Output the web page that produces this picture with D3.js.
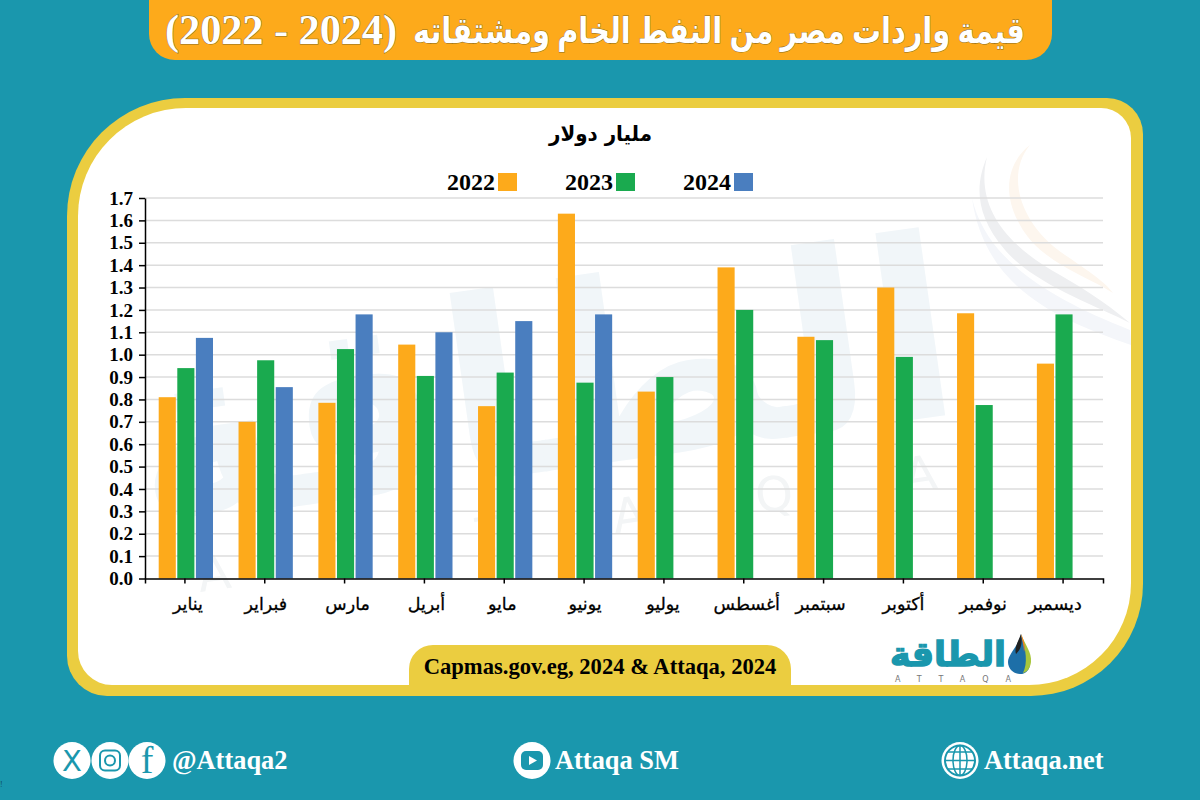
<!DOCTYPE html>
<html><head><meta charset="utf-8">
<script src="https://cdn.jsdelivr.net/npm/d3@7"></script>
<style>
html,body{margin:0;padding:0;background:#1a97ad;}
svg{display:block;}
</style></head><body>
<svg id="c" width="1200" height="800"></svg>
<script>
const titleArabic = "قيمة واردات مصر من النفط الخام ومشتقاته";
const titleYears = "(2022 - 2024)";
const unitText = "مليار دولار";
const sourceText = "Capmas.gov.eg, 2024 & Attaqa, 2024";
const months = ["يناير","فبراير","مارس","أبريل","مايو","يونيو","يوليو","أغسطس","سبتمبر","أكتوبر","نوفمبر","ديسمبر"];
const seriesNames = ["2022","2023","2024"];
const seriesColors = ["#fdaa1b","#1aaa4f","#4a7ebf"];
const values2022 = [0.81,0.70,0.785,1.045,0.77,1.63,0.835,1.39,1.08,1.30,1.185,0.96];
const values2023 = [0.94,0.975,1.025,0.905,0.92,0.875,0.90,1.20,1.065,0.99,0.775,1.18];
const values2024 = [1.075,0.855,1.18,1.10,1.15,1.18,null,null,null,null,null,null];
const yTicks = [0,0.1,0.2,0.3,0.4,0.5,0.6,0.7,0.8,0.9,1.0,1.1,1.2,1.3,1.4,1.5,1.6,1.7];

const serif = "'Liberation Serif','DejaVu Sans',serif";
const arabic = "'DejaVu Sans',sans-serif";
const svg = d3.select("#c");

function corners(x0,y0,x1,y1,tl,tr,br,bl){
  return `M${x0+tl},${y0}H${x1-tr}A${tr},${tr} 0 0 1 ${x1},${y0+tr}V${y1-br}A${br},${br} 0 0 1 ${x1-br},${y1}H${x0+bl}A${bl},${bl} 0 0 1 ${x0},${y1-bl}V${y0+tl}A${tl},${tl} 0 0 1 ${x0+tl},${y0}Z`;
}
svg.append("rect").attr("width",1200).attr("height",800).attr("fill","#1a97ad");

// title banner
svg.append("path").attr("d",corners(149,-30,1052,60,0,0,26,26)).attr("fill","#fdaa1b");
const titleStyle = s=>s.attr("font-family",serif).attr("font-weight","bold").attr("fill","#fff")
  .attr("lengthAdjust","spacingAndGlyphs").style("paint-order","stroke").attr("stroke","#8a6a20").attr("stroke-width",1);
titleStyle(svg.append("text").attr("x",719).attr("y",43).attr("text-anchor","middle")
  .attr("font-size",36).attr("textLength",612).text(titleArabic));
titleStyle(svg.append("text").attr("x",281).attr("y",44).attr("text-anchor","middle")
  .attr("direction","ltr").style("unicode-bidi","bidi-override")
  .attr("font-size",42).attr("textLength",232).text(titleYears));

// frame
svg.append("path").attr("d",corners(67,98,1143,696,118,36,112,40)).attr("fill","#ebcd40");
svg.append("path").attr("d",corners(78,108,1131,685,108,30,102,34)).attr("fill","#fff");

// watermark
const wm = svg.append("g");
wm.append("text").attr("transform","translate(555,470) rotate(-8)").attr("text-anchor","middle")
  .attr("font-family",arabic).attr("font-weight","bold").attr("font-size",250).attr("fill","#f1f6f9")
  .attr("textLength",830).attr("lengthAdjust","spacingAndGlyphs").text("الطاقة");
wm.append("text").attr("transform","translate(200,592) rotate(-8)")
  .attr("font-family",arabic).attr("font-size",48).attr("fill","#f3f5f6")
  .attr("letter-spacing",112).text("ATTAQA");
wm.append("path").attr("d","M972,198C985,255 1040,295 1130,330L1131,345C1060,320 985,290 972,198Z").attr("fill","#f4f6fa");
wm.append("path").attr("d","M1030,145C1005,175 1020,225 1065,255C1090,272 1105,282 1113,293C1085,275 1040,262 1020,225C1000,190 1010,160 1030,145Z").attr("fill","#fdf6ee");
wm.append("path").attr("d","M987,157C975,205 1005,245 1060,275C1090,292 1115,310 1130,323C1095,305 1035,285 1005,250C975,215 975,185 987,157Z").attr("fill","#eeeff1");

// chart
const x = d3.scaleBand().domain(months).range([145,1103]);
const sub = d3.scaleBand().domain(seriesNames).range([13.7,68]).paddingInner(0.08);
const y = d3.scaleLinear().domain([0,1.7]).range([578.5,198]);

svg.append("g").selectAll("line").data(yTicks.filter(d=>d>0)).join("line")
  .attr("x1",145).attr("x2",1103).attr("y1",d=>y(d)).attr("y2",d=>y(d))
  .attr("stroke","#dcdcdc").attr("stroke-width",1.5);

const allSeries = [values2022,values2023,values2024];
allSeries.forEach((vals,i)=>{
  const rows = vals.map((v,j)=>({m:months[j],v})).filter(d=>d.v!==null);
  svg.append("g").selectAll("rect").data(rows).join("rect")
    .attr("x",d=>x(d.m)+sub(seriesNames[i]))
    .attr("width",sub.bandwidth())
    .attr("y",d=>y(d.v))
    .attr("height",d=>y(0)-y(d.v))
    .attr("fill",seriesColors[i]);
});

const yAxis = svg.append("g").attr("transform","translate(145,0)")
  .call(d3.axisLeft(y).tickValues(yTicks).tickFormat(d3.format(".1f")).tickSize(6).tickSizeOuter(0));
yAxis.selectAll("text").attr("x",-12).attr("font-family",serif).attr("font-weight","bold").attr("font-size",19).attr("fill","#000");
yAxis.selectAll("line,path").attr("stroke","#000").attr("stroke-width",1.5);

const labelNudge = [3,1,3,2,-2,1,-1,3,-3,0,0,-8];
const xAxis = svg.append("g").attr("transform","translate(0,578.5)")
  .call(d3.axisBottom(x).tickSize(5).tickSizeOuter(5));
xAxis.selectAll("text").attr("y",19).attr("dx",(d,i)=>labelNudge[i]).attr("font-family",arabic).attr("font-weight","normal").attr("font-size",17.5).attr("fill","#000").attr("stroke","#000").attr("stroke-width",0.3);
xAxis.selectAll("line,path").attr("stroke","#000").attr("stroke-width",1.5);

// unit
svg.append("text").attr("x",600.5).attr("y",141).attr("text-anchor","middle").attr("direction","rtl")
  .attr("font-family",arabic).attr("font-weight","bold").attr("font-size",21).attr("fill","#000")
  .attr("textLength",103).attr("lengthAdjust","spacingAndGlyphs").text(unitText);

// legend
const lx = d3.scalePoint().domain(seriesNames).range([498,734]);
const leg = svg.append("g").selectAll("g").data(seriesNames).join("g")
  .attr("transform",d=>`translate(${lx(d)},0)`);
leg.append("rect").attr("y",173).attr("width",19).attr("height",18).attr("fill",(d,i)=>seriesColors[i]);
leg.append("text").attr("x",-3).attr("y",190).attr("text-anchor","end")
  .attr("font-family",serif).attr("font-weight","bold").attr("font-size",24).attr("fill","#000").text(d=>d);

// source pill
svg.append("path").attr("d",corners(409,645,791,690,24,24,0,0)).attr("fill","#ebcd40");
svg.append("text").attr("x",600).attr("y",674).attr("text-anchor","middle")
  .attr("font-family",serif).attr("font-weight","bold").attr("font-size",22.6).attr("fill","#000").text(sourceText);

// logo
svg.append("text").attr("x",948).attr("y",666).attr("text-anchor","middle").attr("direction","rtl")
  .attr("font-family",arabic).attr("font-weight","bold").attr("font-size",34).attr("fill","#1a97ad")
  .attr("stroke","#1a97ad").attr("stroke-width",1.4)
  .attr("textLength",116).attr("lengthAdjust","spacingAndGlyphs").text("الطاقة");
svg.append("text").attr("x",895).attr("y",682).attr("font-family",arabic).attr("font-size",8).attr("fill","#777")
  .attr("letter-spacing",17).text("ATTAQA");
svg.append("path").attr("d","M1021,634C1019,645 1008,654 1008,662C1008,669 1014,674 1020,674C1027,674 1031,668 1030,660C1029,650 1023,645 1021,634Z").attr("fill","#1d6fa8");
svg.append("path").attr("d","M1021,634C1025,645 1032,652 1031,662C1030,669 1027,672 1023,673C1028,663 1026,650 1021,634Z").attr("fill","#a9c63c");
svg.append("path").attr("d","M1021,634C1018,642 1014,648 1016,654C1020,650 1023,645 1021,634Z").attr("fill","#222");
svg.append("path").attr("d","M1021,634C1022,640 1024,646 1024,652C1026,647 1024,640 1021,634Z").attr("fill","#f0801e");

// footer
const foot = svg.append("g").attr("fill","#fff");
const footCircles = [72,110,147,532,960];
foot.selectAll("circle").data(footCircles).join("circle").attr("cx",d=>d).attr("cy",760.5).attr("r",18.5);
const footStyle = s=>s.attr("font-family",serif).attr("font-weight","bold").attr("font-size",26.4);
footStyle(foot.append("text").attr("x",172).attr("y",769).text("@Attaqa2"));
footStyle(foot.append("text").attr("x",555).attr("y",769).text("Attaqa SM"));
footStyle(foot.append("text").attr("x",984).attr("y",769).text("Attaqa.net"));
// icon glyphs
const icon = svg.append("g").attr("fill","none").attr("stroke","#1a97ad");
svg.append("text").attr("x",72).attr("y",771).attr("text-anchor","middle").attr("font-family",arabic).attr("font-size",29).attr("fill","#1a97ad").text("X");
svg.append("text").attr("x",147).attr("y",773).attr("text-anchor","middle").attr("font-family",serif).attr("font-size",38).attr("fill","#1a97ad").text("f");
icon.append("rect").attr("x",100).attr("y",750.5).attr("width",20).attr("height",20).attr("rx",5).attr("stroke-width",2);
icon.append("circle").attr("cx",110).attr("cy",760.5).attr("r",5).attr("stroke-width",2);
svg.append("path").attr("d",corners(521,751,543,770,5,5,5,5)).attr("fill","#1a97ad");
svg.append("path").attr("d","M529,756L537,760.5L529,765Z").attr("fill","#fff");
icon.append("circle").attr("cx",960).attr("cy",760.5).attr("r",15).attr("stroke-width",2);
icon.append("ellipse").attr("cx",960).attr("cy",760.5).attr("rx",7).attr("ry",15).attr("stroke-width",1.5);
icon.append("line").attr("x1",945).attr("x2",975).attr("y1",760.5).attr("y2",760.5).attr("stroke-width",1.5);
icon.append("line").attr("x1",948).attr("x2",972).attr("y1",752).attr("y2",752).attr("stroke-width",1.5);
icon.append("line").attr("x1",948).attr("x2",972).attr("y1",769).attr("y2",769).attr("stroke-width",1.5);
icon.append("line").attr("x1",960).attr("x2",960).attr("y1",745.5).attr("y2",775.5).attr("stroke-width",1.5);
svg.append("text").attr("x",0).attr("y",787).attr("font-family",serif).attr("font-size",8).attr("fill","#0d4f5c").text("!");
</script>
</body></html>
